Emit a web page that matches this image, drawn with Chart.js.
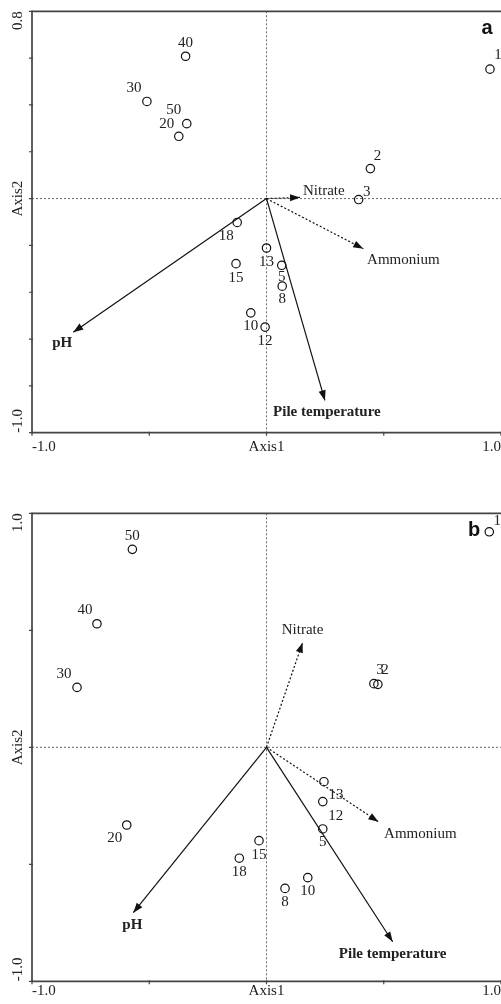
<!DOCTYPE html>
<html><head><meta charset="utf-8">
<script src="https://cdn.jsdelivr.net/npm/chart.js@4/dist/chart.umd.min.js"></script>
<style>
html,body{margin:0;padding:0;background:#fff;width:501px;height:1004px;overflow:hidden}
.p{position:absolute;left:0}
</style></head><body>
<div class="p" style="top:0"><canvas id="ca" width="501" height="470"></canvas></div>
<div class="p" style="top:502px"><canvas id="cb" width="501" height="502"></canvas></div>
<script>
// ---------- data ----------
const samples = ['1','2','3','5','8','10','12','13','15','18','20','30','40','50'];

const aAxis1 = [0.953, 0.443, 0.393, 0.065, 0.067, -0.067, -0.006, 0.000, -0.130, -0.125, -0.374, -0.510, -0.345, -0.340];
const aAxis2 = [0.553, 0.128, -0.004, -0.285, -0.374, -0.488, -0.549, -0.211, -0.278, -0.102, 0.266, 0.415, 0.608, 0.320];

const bAxis1 = [0.950, 0.475, 0.458, 0.240, 0.079, 0.176, 0.240, 0.245, -0.032, -0.116, -0.596, -0.808, -0.723, -0.572];
const bAxis2 = [0.921, 0.269, 0.272, -0.349, -0.603, -0.557, -0.232, -0.147, -0.399, -0.474, -0.332, 0.256, 0.528, 0.846];

const variables = ['Nitrate', 'Ammonium', 'pH', 'Pile temperature'];
const aVarAxis1 = [0.143, 0.413, -0.824, 0.249];
const aVarAxis2 = [0.005, -0.214, -0.571, -0.862];
const bVarAxis1 = [0.154, 0.477, -0.568, 0.538];
const bVarAxis2 = [0.447, -0.318, -0.707, -0.831];

const xTickValues = [-1, 0, 1];
const xTickLabels = ['-1.0', 'Axis1', '1.0'];
const aYTickValues = [-1, 0, 0.8];
const aYTickLabels = ['-1.0', 'Axis2', '0.8'];
const bYTickValues = [-1, 0, 1];
const bYTickLabels = ['-1.0', 'Axis2', '1.0'];

// ---------- styles (label offsets in px, separate from data) ----------
const aLabelOffsets = [[8,-14],[7,-13],[8,-7],[0,12],[0,13],[0,13],[0,14],[0,14],[0,14],[-11,14],[-12,-12],[-13,-13],[0,-13],[-13,-14]];
const bLabelOffsets = [[8,-11],[7,-14],[6,-14],[0,13],[0,14],[0,13],[13,14],[12,13],[0,14],[0,14],[-12,13],[-13,-13],[-12,-14],[0,-13]];
const aVarLabelOffsets = [[3,-6,'left'],[40,11,'center'],[-11,11,'center'],[2,12,'center']];
const bVarLabelOffsets = [[0,-13,'center'],[42,12,'center'],[-1,12,'center'],[0,12,'center']];
const varDotted = [true, true, false, false];
const varBold = [false, false, true, true];

const SERIF = '"Liberation Serif", "Times New Roman", serif';

function makePanel(id, opts) {
  const pts = opts.ax1.map((v, i) => ({x: v, y: opts.ax2[i]}));
  const arrowSets = opts.vx.map((v, i) => ({
    type: 'line',
    data: [{x: 0, y: 0}, {x: v, y: opts.vy[i]}],
    borderColor: '#111',
    borderWidth: 1.2,
    borderDash: varDotted[i] ? [2, 2] : [],
    pointRadius: 0,
    fill: false,
    order: 2
  }));

  const plugin = {
    id: 'biplot_' + id,
    beforeDatasetsDraw(chart) {
      const {ctx, chartArea: ca, scales: {x, y}} = chart;
      ctx.save();
      ctx.strokeStyle = '#666';
      ctx.lineWidth = 1;
      ctx.setLineDash([2, 2]);
      const x0 = x.getPixelForValue(0), y0 = y.getPixelForValue(0);
      ctx.beginPath();
      ctx.moveTo(x0, ca.top); ctx.lineTo(x0, ca.bottom);
      ctx.moveTo(ca.left, y0); ctx.lineTo(ca.right, y0);
      ctx.stroke();
      ctx.restore();
    },
    afterDatasetsDraw(chart) {
      const {ctx, chartArea: ca, scales: {x, y}} = chart;
      ctx.save();
      // frame (left, top, bottom; right edge lies at the page edge)
      ctx.strokeStyle = '#444';
      ctx.lineWidth = 1.7;
      ctx.setLineDash([]);
      ctx.beginPath();
      ctx.moveTo(ca.right + 2, ca.top);
      ctx.lineTo(ca.left, ca.top);
      ctx.lineTo(ca.left, ca.bottom);
      ctx.lineTo(ca.right + 2, ca.bottom);
      ctx.stroke();
      // tick marks
      ctx.lineWidth = 1.2;
      ctx.beginPath();
      y.ticks.forEach(t => {
        const py = y.getPixelForValue(t.value);
        ctx.moveTo(ca.left - 3, py); ctx.lineTo(ca.left + 1, py);
      });
      x.ticks.forEach(t => {
        const px = x.getPixelForValue(t.value);
        ctx.moveTo(px, ca.bottom - 1); ctx.lineTo(px, ca.bottom + 3);
      });
      ctx.stroke();

      // axis labels
      ctx.fillStyle = '#222';
      ctx.font = '15px ' + SERIF;
      ctx.textBaseline = 'middle';
      xTickValues.forEach((v, i) => {
        ctx.textAlign = i === 0 ? 'left' : (i === xTickValues.length - 1 ? 'right' : 'center');
        ctx.fillText(xTickLabels[i], x.getPixelForValue(v), ca.bottom + opts.xLabelGap);
      });
      opts.yTickValues.forEach((v, i) => {
        ctx.save();
        ctx.translate(18.5, y.getPixelForValue(v));
        ctx.rotate(-Math.PI / 2);
        ctx.textAlign = i === 0 ? 'left' : (i === opts.yTickValues.length - 1 ? 'right' : 'center');
        ctx.fillText(opts.yTickLabels[i], 0, 0);
        ctx.restore();
      });

      // arrowheads + variable labels
      const ox = x.getPixelForValue(0), oy = y.getPixelForValue(0);
      opts.vx.forEach((v, i) => {
        const tx = x.getPixelForValue(v), ty = y.getPixelForValue(opts.vy[i]);
        const ang = Math.atan2(ty - oy, tx - ox);
        const L = 10, W = 3.6;
        ctx.fillStyle = '#111';
        ctx.beginPath();
        ctx.moveTo(tx, ty);
        ctx.lineTo(tx - L * Math.cos(ang) + W * Math.sin(ang), ty - L * Math.sin(ang) - W * Math.cos(ang));
        ctx.lineTo(tx - L * Math.cos(ang) - W * Math.sin(ang), ty - L * Math.sin(ang) + W * Math.cos(ang));
        ctx.closePath();
        ctx.fill();
        const off = opts.varOffsets[i];
        ctx.fillStyle = '#222';
        ctx.font = (varBold[i] ? 'bold ' : '') + '15px ' + SERIF;
        ctx.textAlign = off[2];
        ctx.textBaseline = 'middle';
        ctx.fillText(variables[i], tx + off[0], ty + off[1]);
      });

      // sample labels
      ctx.font = '15px ' + SERIF;
      ctx.fillStyle = '#222';
      ctx.textAlign = 'center';
      ctx.textBaseline = 'middle';
      samples.forEach((s, i) => {
        const px = x.getPixelForValue(opts.ax1[i]), py = y.getPixelForValue(opts.ax2[i]);
        const off = opts.labelOffsets[i];
        ctx.fillText(s, px + off[0], py + off[1]);
      });

      // panel letter
      ctx.font = 'bold 20px "Liberation Sans", Arial, sans-serif';
      ctx.fillStyle = '#111';
      ctx.fillText(opts.letter, ca.right + opts.letterPos[0], ca.top + opts.letterPos[1]);
      ctx.restore();
    }
  };

  return new Chart(document.getElementById(id), {
    type: 'scatter',
    data: {
      datasets: [{
        data: pts,
        pointRadius: 4.2,
        pointHoverRadius: 4.2,
        pointBorderWidth: 1.2,
        pointBorderColor: '#111',
        pointBackgroundColor: 'rgba(255,255,255,0)',
        showLine: false,
        clip: false,
        order: 1
      }, ...arrowSets]
    },
    options: {
      responsive: false,
      animation: false,
      layout: {autoPadding: false, padding: {top: 11.3, right: 0, bottom: 0, left: 0}},
      plugins: {legend: {display: false}, tooltip: {enabled: false}},
      events: [],
      scales: {
        x: {
          type: 'linear', min: -1, max: 1,
          ticks: {display: false, stepSize: 0.5},
          grid: {display: false},
          border: {display: false},
          afterFit: s => { s.height = opts.xAxisHeight; }
        },
        y: {
          type: 'linear', min: opts.yMin, max: opts.yMax,
          ticks: {display: false, stepSize: opts.yStep},
          grid: {display: false},
          border: {display: false},
          afterFit: s => { s.width = 32; }
        }
      }
    },
    plugins: [plugin]
  });
}

makePanel('ca', {
  ax1: aAxis1, ax2: aAxis2, vx: aVarAxis1, vy: aVarAxis2,
  labelOffsets: aLabelOffsets, varOffsets: aVarLabelOffsets,
  yMin: -1, yMax: 0.8, yStep: 0.2,
  yTickValues: aYTickValues, yTickLabels: aYTickLabels,
  xAxisHeight: 37.3, xLabelGap: 14,
  letter: 'a', letterPos: [-14, 17]
});
makePanel('cb', {
  ax1: bAxis1, ax2: bAxis2, vx: bVarAxis1, vy: bVarAxis2,
  labelOffsets: bLabelOffsets, varOffsets: bVarLabelOffsets,
  yMin: -1, yMax: 1, yStep: 0.5,
  yTickValues: bYTickValues, yTickLabels: bYTickLabels,
  xAxisHeight: 22.7, xLabelGap: 10,
  letter: 'b', letterPos: [-27, 17.4]
});
</script>
</body></html>
